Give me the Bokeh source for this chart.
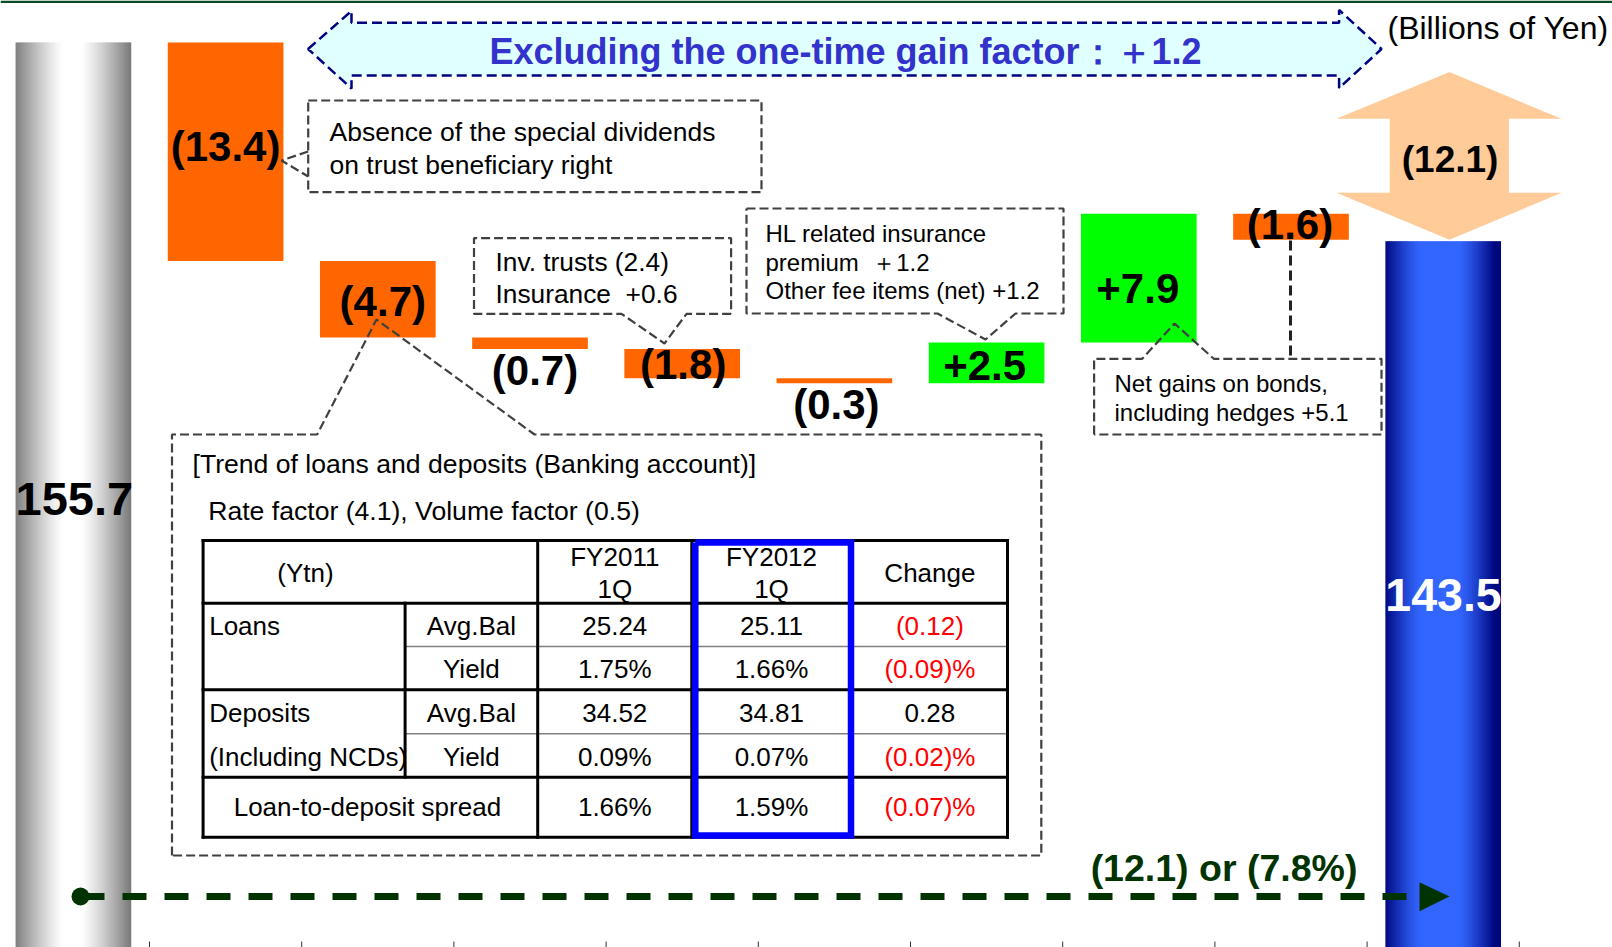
import numpy as np
from bokeh.plotting import figure
from bokeh.models import Range1d, ColumnDataSource
from bokeh.core.properties import value
from bokeh.embed import file_html
from bokeh.resources import INLINE

# ---------------- data ----------------
categories = ["FY2011 1Q", "Special dividends", "Net interest income", "Trust fees",
              "Inv. trusts / insurance", "Other", "Fee income",
              "Net gains on bonds", "Expenses", "FY2012 1Q"]
changes = [155.7, -13.4, -4.7, -0.7, -1.8, -0.3, 2.5, 7.9, -1.6, 143.5]
bar_labels = ["155.7", "(13.4)", "(4.7)", "(0.7)", "(1.8)", "(0.3)", "+2.5", "+7.9", "(1.6)", "143.5"]
total_diff_label = "(12.1)"
total_diff_text = "(12.1) or (7.8%)"
banner_text = "Excluding the one-time gain factor：＋1.2"
unit_text = "(Billions of Yen)"

NB = "\u00a0"
callout_dividends = ["Absence of the special dividends", "on trust beneficiary right"]
callout_inv = ["Inv. trusts (2.4)", "Insurance" + NB + NB + "+0.6"]
callout_fees = ["HL related insurance", "premium" + NB + NB + "＋1.2", "Other fee items (net) +1.2"]
callout_bonds = ["Net gains on bonds,", "including hedges +5.1"]
table_title = "[Trend of loans and deposits (Banking account)]"
table_subtitle = "Rate factor (4.1), Volume factor (0.5)"

table_header = ["(Ytn)", ["FY2011", "1Q"], ["FY2012", "1Q"], "Change"]
row_group = ["Loans", "", "Deposits", "(Including NCDs)"]
row_item = ["Avg.Bal", "Yield", "Avg.Bal", "Yield"]
fy2011 = ["25.24", "1.75%", "34.52", "0.09%"]
fy2012 = ["25.11", "1.66%", "34.81", "0.07%"]
change = ["(0.12)", "(0.09)%", "0.28", "(0.02)%"]
spread_row = ["Loan-to-deposit spread", "1.66%", "1.59%", "(0.07)%"]

# ---------------- layout (page pixel geometry) ----------------
W, H = 1612, 947
PX0, PY0 = 0, 0                # page offset of the figure
CAT0, CAT_W = 72.9, 152.2      # page x of first category centre, category width
VAL_TOP, PX_TOP, PX_PER_UNIT = 155.7, 42.0, 16.3

x_start = (PX0 - CAT0) / CAT_W
x_end = (PX0 + W - CAT0) / CAT_W
y_end = VAL_TOP + (PX_TOP - PY0) / PX_PER_UNIT
y_start = VAL_TOP - (PY0 + H - PX_TOP) / PX_PER_UNIT

p = figure(width=W, height=H, x_range=Range1d(x_start, x_end), y_range=Range1d(y_start, y_end),
           output_backend="svg", toolbar_location=None, x_axis_location=None, y_axis_location=None,
           min_border=0, min_border_left=0, min_border_right=0, min_border_top=0, min_border_bottom=0)
p.outline_line_color = None
p.grid.visible = False
p.background_fill_color = "white"
p.border_fill_color = "white"
p.extra_x_ranges = {"px": Range1d(PX0, PX0 + W)}
p.extra_y_ranges = {"py": Range1d(PY0 + H, PY0)}
PXR = dict(x_range_name="px", y_range_name="py")

FONT = value("Liberation Sans")

# ---------------- waterfall geometry from data ----------------
vals = np.array(changes, dtype=float)
n = len(vals)
xs = np.arange(n, dtype=float)
running = np.cumsum(vals[:-1])
bottoms = np.zeros(n)
tops = np.zeros(n)
bottoms[0], tops[0] = 0.0, vals[0]
for i in range(1, n - 1):
    a, b = running[i - 1], running[i]
    bottoms[i], tops[i] = min(a, b), max(a, b)
bottoms[-1], tops[-1] = 0.0, vals[-1]
HALF = 0.38


def gray_color(t):
    d = min(max(0.0, abs(t - 0.49) - 0.08) / 0.43, 1.0)
    lv = int(round(255 - 135 * d ** 1.2))
    return "#%02x%02x%02x" % (lv, lv, lv)


def blue_color(t):
    d = min(max(0.0, abs(t - 0.47) - 0.16) / 0.31, 1.0)
    s = 1 - d ** 1.3
    return "#%02x%02x%02x" % (int(round(51 * s)), int(round(8 + 94 * s)), int(round(128 + 127 * s)))


def gradient_bar(i, fn, nstrip=64):
    left, right = xs[i] - HALF, xs[i] + HALF
    edges = np.linspace(left, right, nstrip + 1)
    step = edges[1] - edges[0]
    cols = [fn((k + 0.5) / nstrip) for k in range(nstrip)]
    p.quad(left=edges[:-1], right=np.minimum(edges[1:] + step * 0.6, right),
           bottom=np.full(nstrip, bottoms[i]), top=np.full(nstrip, tops[i]),
           fill_color=cols, line_color=None)


gradient_bar(0, gray_color)
gradient_bar(n - 1, blue_color)

mid = np.arange(1, n - 1)
colors = ["#00FF00" if vals[i] > 0 else "#FF6600" for i in mid]
p.quad(left=xs[mid] - HALF, right=xs[mid] + HALF, bottom=bottoms[mid], top=tops[mid],
       fill_color=colors, line_color=None)

# category tick marks at the bottom
bx = np.arange(n) + 0.5
p.segment(x0=bx, x1=bx, y0=np.full(n, PY0 + H - 6), y1=np.full(n, PY0 + H), y_range_name="py",
          line_color="#333333", line_width=1)

# top rule
p.quad(left=[PX0], right=[PX0 + W], top=[PY0], bottom=[PY0 + 2.5], fill_color="#0B4A26",
       line_color=None, **PXR)

# ---------------- peach double arrow ----------------
p.patch([1449, 1561, 1508.4, 1508.4, 1561, 1449, 1336, 1389.3, 1389.3, 1336],
        [71.5, 118.3, 118.3, 192.3, 192.3, 239.3, 192.3, 192.3, 118.3, 118.3],
        fill_color="#FFCC99", line_color=None, **PXR)

# ---------------- banner ----------------
p.patch([307.6, 351, 351, 1338.6, 1338.6, 1381, 1338.6, 1338.6, 351, 351],
        [48.5, 10.5, 22.3, 22.3, 9.5, 48.5, 87.5, 75, 75, 88],
        fill_color="#E0FFFF", line_color="#000080", line_width=2.5, line_dash="10 5", **PXR)
p.text(x=[845], y=[50.5], text=[banner_text], text_font=FONT, text_font_style="bold",
       text_font_size="36px", text_color="#3333CC", text_align="center", text_baseline="middle", **PXR)
p.text(x=[1387], y=[27], text=[unit_text], text_font=FONT, text_font_size="32px",
       text_color="black", text_align="left", text_baseline="middle", **PXR)

# ---------------- dashed callouts ----------------
call_xs = [
    [307.7, 761, 761, 307.7, 307.7],
    [307.7, 281, 307.7],
    [730.6, 686, 664, 621, 473.5, 473.5, 730.6, 730.6],
    [746, 1063, 1063, 1015, 985, 937, 746, 746],
    [1093.6, 1093.6, 1141.7, 1174, 1213.3, 1381, 1381, 1093.6],
    [171.5, 171.5, 316.7, 376, 534, 1040.8, 1040.8, 171.5],
]
call_ys = [
    [100, 100, 191.7, 191.7, 100],
    [151, 160, 176],
    [313.3, 313.3, 343, 313.3, 313.3, 237.7, 237.7, 313.3],
    [208, 208, 313, 313, 339, 313, 313, 208],
    [434, 358.3, 358.3, 323, 358.3, 358.3, 434, 434],
    [855, 434, 434, 319, 434, 434, 855, 855],
]
p.multi_line(call_xs, call_ys, line_color="#404040", line_width=2.2, line_dash="9 4", **PXR)
p.line([1290, 1290], [240, 358.3], line_color="#222222", line_width=3, line_dash="10 5", **PXR)


def text_lines(x, ys, lines, size, color="black", align="left", style="normal"):
    p.text(x=[x] * len(lines), y=ys, text=lines, text_font=FONT, text_font_size=size,
           text_font_style=style, text_color=color, text_align=align, text_baseline="middle", **PXR)


text_lines(329, [131, 164], callout_dividends, "26.5px")
text_lines(495, [261.5, 293.3], callout_inv, "26.3px")
text_lines(765, [232.5, 261.7, 290], callout_fees, "24px")
text_lines(1114, [383, 411.5], callout_bonds, "24px")
text_lines(192, [463], [table_title], "26.6px")
text_lines(207.7, [510], [table_subtitle], "26.6px")

# ---------------- table ----------------
TL, TR, TT, TB = 202.6, 1007, 540, 836.7
c1, c2, c3, c4 = 404.6, 537.2, 691.3, 851.8
r_head, r1, r2, r3 = 602.7, 646, 689.3, 733.3
r4 = 776.7
thick_x = [[TL, TR], [TL, TR], [TL, TR], [TL, TR], [TL, TR],
           [TL, TL], [TR, TR], [c2, c2], [c3, c3], [c4, c4], [c1, c1]]
thick_y = [[TT, TT], [TB, TB], [r_head, r_head], [r2, r2], [r4, r4],
           [TT, TB], [TT, TB], [TT, TB], [TT, TB], [TT, TB], [r_head, r4]]
p.multi_line([[c1, TR], [c1, TR]], [[r1, r1], [r3, r3]], line_color="#808080", line_width=1.5, **PXR)
p.multi_line(thick_x, thick_y, line_color="black", line_width=3, line_cap="square", **PXR)
p.multi_line([[694.8, 850.5, 850.5, 694.8, 694.8]], [[542, 542, 835, 835, 542]],
             line_color="#0000FF", line_width=6.5, line_join="miter", **PXR)

col_c = [305, 470.9, 614.3, 771, 929.4]
row_c = [624.4, 667.7, 711.3, 755.0]
head_c = (TT + r_head) / 2
text_lines(col_c[0], [head_c + 1], [table_header[0]], "26px", align="center")
text_lines(col_c[2], [556.5, 588.5], table_header[1], "26px", align="center")
text_lines(col_c[3], [556.5, 588.5], table_header[2], "26px", align="center")
text_lines(col_c[4], [head_c + 1], [table_header[3]], "26px", align="center")


def cell_color(s):
    return "#FF0000" if s.startswith("(") else "black"


for k in range(4):
    if row_group[k]:
        text_lines(208.7, [row_c[k] + 1], [row_group[k]], "26px")
    text_lines(col_c[1], [row_c[k] + 1], [row_item[k]], "26px", align="center")
    text_lines(col_c[2], [row_c[k] + 1], [fy2011[k]], "26px", align="center")
    text_lines(col_c[3], [row_c[k] + 1], [fy2012[k]], "26px", align="center")
    text_lines(col_c[4], [row_c[k] + 1], [change[k]], "26px", color=cell_color(change[k]), align="center")
sp_c = (r4 + TB) / 2
text_lines((TL + c2) / 2 - 3, [sp_c], [spread_row[0]], "26px", align="center")
text_lines(col_c[2], [sp_c], [spread_row[1]], "26px", align="center")
text_lines(col_c[3], [sp_c], [spread_row[2]], "26px", align="center")
text_lines(col_c[4], [sp_c], [spread_row[3]], "26px", color=cell_color(spread_row[3]), align="center")

# ---------------- bar value labels ----------------
label_dy_px = [0, -5, 2, 27, 1, 24, 3, 10, -2, 0]   # screen offsets from bar centre
label_dx_px = [0, 0, 5, 5, 1, 2, -2, -1, -1, 0]
visible_bottom = np.maximum(bottoms, y_start)
label_y = (tops + visible_bottom) / 2 - np.array(label_dy_px) / PX_PER_UNIT
label_x = xs + np.array(label_dx_px) / CAT_W
src_mid = ColumnDataSource(dict(x=label_x[1:-1], y=label_y[1:-1], t=bar_labels[1:-1]))
p.text(x="x", y="y", text="t", source=src_mid, text_font=FONT, text_font_style="bold",
       text_font_size="42px", text_color="black", text_align="center", text_baseline="middle")
p.text(x=[xs[0] - HALF], y=[label_y[0] - 3.5 / PX_PER_UNIT], text=[bar_labels[0]], text_font=FONT,
       text_font_style="bold", text_font_size="47px", text_color="black", text_align="left",
       text_baseline="middle")
p.text(x=[xs[-1] - HALF], y=[label_y[-1] - 1 / PX_PER_UNIT], text=[bar_labels[-1]], text_font=FONT,
       text_font_style="bold", text_font_size="46.5px", text_color="white", text_align="left",
       text_baseline="middle")
p.text(x=[1449.6], y=[158.5], text=[total_diff_label], text_font=FONT, text_font_style="bold",
       text_font_size="37px", text_color="black", text_align="center", text_baseline="middle", **PXR)

# ---------------- bottom total-change arrow ----------------
GREEN = "#003300"
p.line([80, 1419], [896, 896], line_color=GREEN, line_width=7, line_dash="24 18", **PXR)
p.scatter([80], [896], size=18, marker="circle", fill_color=GREEN, line_color=None, **PXR)
p.patch([1419, 1449, 1419], [881.7, 896, 910.7], fill_color=GREEN, line_color=None, **PXR)
p.text(x=[1223.5], y=[867.5], text=[total_diff_text], text_font=FONT, text_font_style="bold",
       text_font_size="37.5px", text_color=GREEN, text_align="center", text_baseline="middle", **PXR)

open("out.html", "w").write(file_html(p, INLINE))
